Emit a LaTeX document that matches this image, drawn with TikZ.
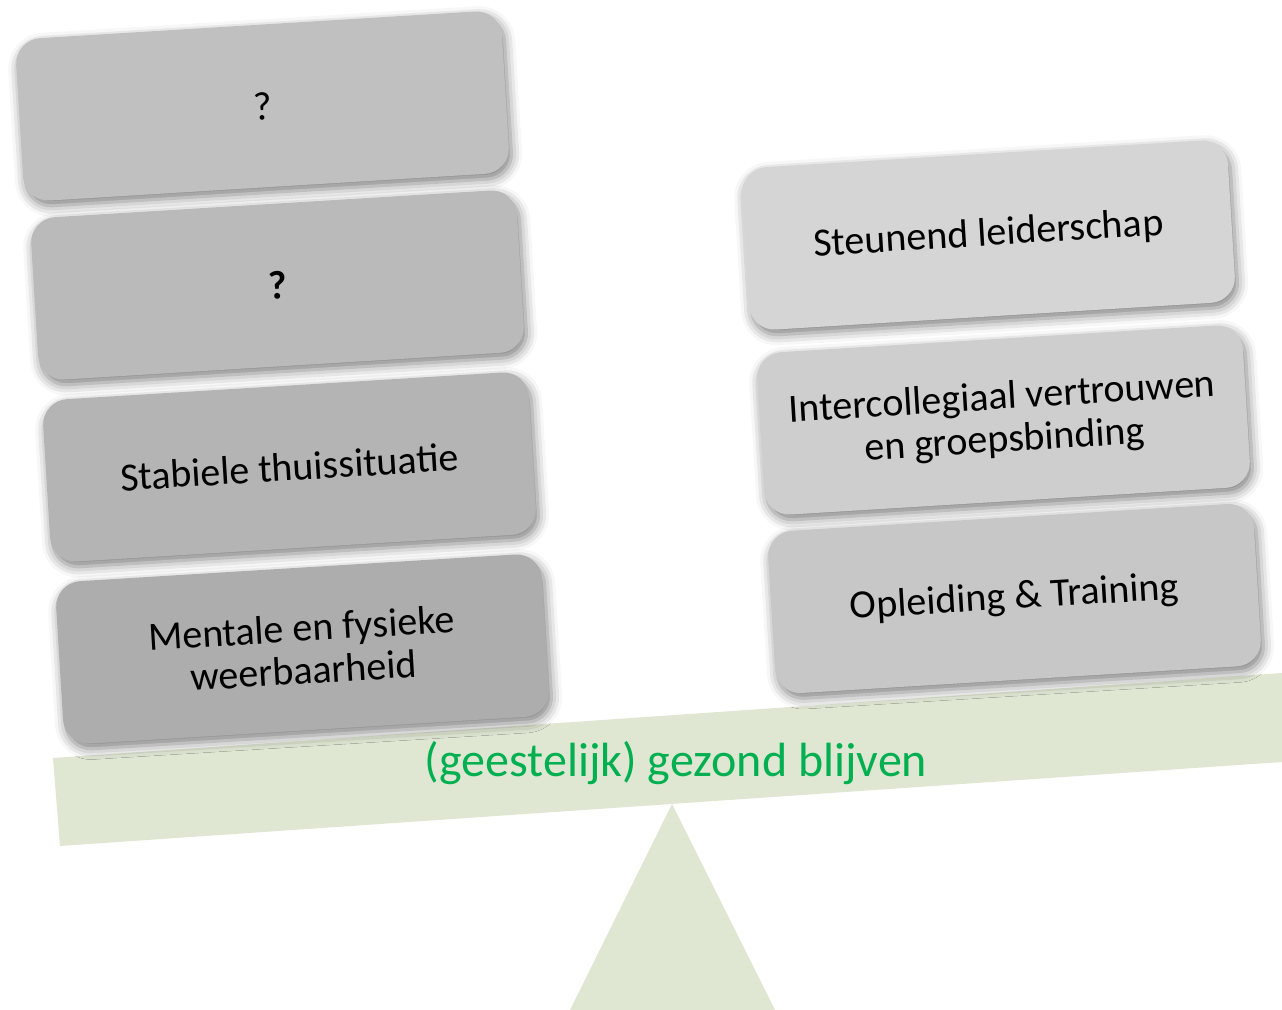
\documentclass[tikz,border=0pt]{standalone}
\usepackage{fontspec}
\setmainfont{Carlito}
\usepackage{tikz}
\usetikzlibrary{shadows.blur}

\definecolor{plankgroen}{RGB}{223,231,211}
\definecolor{tekstgroen}{RGB}{0,176,80}
\definecolor{grijsA}{RGB}{192,192,192}
\definecolor{grijsB}{RGB}{186,186,186}
\definecolor{grijsC}{RGB}{180,180,180}
\definecolor{grijsD}{RGB}{173,173,173}
\definecolor{lichtA}{RGB}{213,213,213}
\definecolor{lichtB}{RGB}{206,206,206}
\definecolor{lichtC}{RGB}{199,199,199}

\tikzset{
  blok/.style={rounded corners=19pt, minimum width=365pt, minimum height=122pt, rotate=3.5,
    align=center, font=\fontsize{30}{32}\selectfont,
    blur shadow={shadow xshift=2pt, shadow yshift=-4pt, shadow blur radius=8pt, shadow opacity=50}},
}

\begin{document}
\begin{tikzpicture}[x=0.75pt, y=0.75pt]
	\useasboundingbox (0,0) rectangle (1282,1010);
	
	% driehoek en plank
	\fill[plankgroen] (672,206) -- (775,0) -- (570,0) -- cycle;
	\fill[plankgroen] (53,252) -- (1282,337) -- (1282,248) -- (60,164) -- cycle;
	\node[font=\fontsize{36}{40}\selectfont, text=tekstgroen] (plank) at (676,247) {(geestelijk) gezond blijven};
	
	% linker stapel
	\node[blok, fill=grijsA] (vraag1) at (262.5,904) {?};
	\node[blok, fill=grijsB] (vraag2) at (277.5,725) {\bfseries ?};
	\node[blok, fill=grijsC] (thuis) at (289.5,543) {Stabiele thuissituatie};
	\node[blok, fill=grijsD] (weerbaar) at (302.5,361) {Mentale en fysieke\\weerbaarheid};
	
	% rechter stapel
	\node[blok, fill=lichtA] (leider) at (988.5,775) {Steunend leiderschap};
	\node[blok, fill=lichtB] (groep) at (1003.5,590) {Intercollegiaal vertrouwen\\en groepsbinding};
	\node[blok, fill=lichtC] (training) at (1014.5,411.5) {Opleiding \& Training};
\end{tikzpicture}
\end{document}
